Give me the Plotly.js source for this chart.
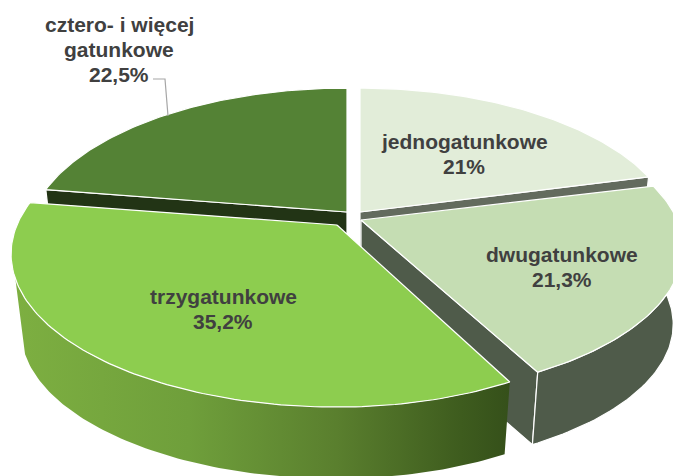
<!DOCTYPE html>
<html><head><meta charset="utf-8">
<script src="https://cdn.plot.ly/plotly-3.0.1.min.js"></script>
<style>html,body{margin:0;padding:0;background:#fff}#c{width:673px;height:476px}</style>
</head><body><div id="c"></div>
<script>
// Data
const categories = ['jednogatunkowe','dwugatunkowe','trzygatunkowe','cztero- i więcej<br>gatunkowe'];
const values = [21, 21.3, 35.2, 22.5];
const valueLabels = ['21%','21,3%','35,2%','22,5%'];

// Styles
const topColors = ['#E2EDD9','#C5DDB3','#8DCD4F','#548235'];
const cutColors = ['#636B5E','#4F5B4A','#35501A','#223415'];
const wallColors = ['#636B5E','#4F5B4A',null,'#223415'];
const wallGradient = [[0,'#7DAF41'],[0.35,'#6F9F3B'],[0.65,'#5A7F2E'],[0.9,'#3E5C1E'],[1,'#35501A']];

// Projection
const apexes = [[360,212],[361,220],[337,225],[347,212]];
const radiiXLeft = [312,316,320,314];
const radiiXRight = [312,316,309,314];
const radiiY = [147.5,143,147.5,147.5];
const labelPos = [[464,141],[562,254],[223,296],[119,24]];
const LINE = 25;
const K = 0.19, DROP = 77, SHRINK = 0.97, WALL_END = 250;
function proj(i, deg, r, low){
  const c = apexes[i];
  const t = deg*Math.PI/180, u = r*Math.sin(t), v = -r*Math.cos(t), s = 1/(1-K*v);
  const dx = (u<0?radiiXLeft[i]:radiiXRight[i])*u*s, dy = radiiY[i]*v*s;
  return low ? [c[0]+dx*SHRINK, c[1]+dy*SHRINK+DROP] : [c[0]+dx, c[1]+dy];
}
function arc(i, a0, a1, low){
  const pts=[]; const n=Math.max(2,Math.ceil(Math.abs(a1-a0)));
  for(let k=0;k<=n;k++) pts.push(proj(i,a0+(a1-a0)*k/n,1,low));
  return pts;
}
function poly(pts, fill, extra){
  return Object.assign({type:'scatter',mode:'lines',x:pts.map(p=>p[0]).concat(pts[0][0]),y:pts.map(p=>p[1]).concat(pts[0][1]),
    fill:'toself',fillcolor:fill,line:{color:'#FFFFFF',width:1.2},hoverinfo:'skip',showlegend:false},extra||{});
}
const total = values.reduce((a,b)=>a+b,0);
const bounds=[]; let acc=0;
values.forEach(v=>{const a0=acc/total*360; acc+=v; bounds.push([a0,acc/total*360]);});

const traces=[];
function drawSlice(i){
  const [a0,a1]=bounds[i];
  const cut=a=>[proj(i,a,0,false),proj(i,a,1,false),proj(i,a,1,true),proj(i,a,0,true)];
  if(i===0) traces.push(poly(cut(a1),cutColors[i]));
  if(i===1) traces.push(poly(cut(a1),cutColors[i]));
  if(i===3) traces.push(poly(cut(a0),cutColors[i]));
  if(i===2){
    const wall=arc(i,a0,WALL_END,false).concat(arc(i,WALL_END,a0,true));
    traces.push(poly(wall,'#6F9F3B',{fillgradient:{type:'horizontal',colorscale:wallGradient},line:{color:'rgba(255,255,255,0)',width:0}}));
  } else if(i===1){
    const wall=arc(i,a0,a1,false).concat(arc(i,a1,a0,true));
    traces.push(poly(wall,wallColors[i]));
  }
  traces.push(poly([proj(i,0,0,false)].concat(arc(i,a0,a1,false)),topColors[i]));
}
[0,3,1,2].forEach(drawSlice);

const annotations = [];
categories.forEach((c,i)=>{
  c.split('<br>').concat(valueLabels[i]).forEach((line,j)=>annotations.push({x:labelPos[i][0],y:labelPos[i][1]+j*LINE,xref:'x',yref:'y',text:line,
    showarrow:false,align:'center',xanchor:'center',yanchor:'middle',
    font:{family:'"Liberation Sans",Arial,sans-serif',size:21,color:'#404040',weight:700}}));
});

Plotly.newPlot('c',traces,{
  width:673,height:476,margin:{l:0,r:0,t:0,b:0},paper_bgcolor:'#fff',plot_bgcolor:'#fff',showlegend:false,
  xaxis:{range:[0,673],visible:false,fixedrange:true},
  yaxis:{range:[476,0],visible:false,fixedrange:true},
  annotations,
  shapes:[{type:'path',path:'M 153 79 L 165 79 L 168 116',line:{color:'#A6A6A6',width:1.2},xref:'x',yref:'y'}]
},{staticPlot:true,displayModeBar:false});
</script></body></html>
